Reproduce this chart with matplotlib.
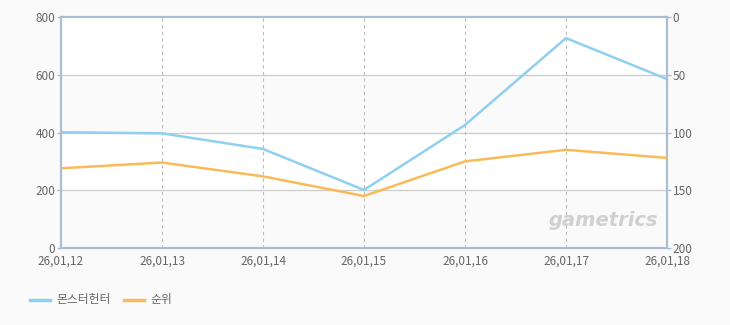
import matplotlib.pyplot as plt

plt.rcParams['font.family'] = ['Noto Sans CJK KR', 'DejaVu Sans']

dates = ["26,01,12", "26,01,13", "26,01,14", "26,01,15", "26,01,16", "26,01,17", "26,01,18"]
players = [401, 397, 343, 201, 426, 727, 585]
rank = [131, 126, 138, 155, 125, 115, 122]

blue = '#8fd0f0'
orange = '#f9bb5a'
spine = '#a9bdd3'
txt = '#666666'

fig = plt.figure(figsize=(7.3, 3.25), dpi=100, facecolor='#fafafa')
ax = fig.add_axes([61/730, 77/325, 606/730, 231/325])
ax.set_facecolor('white')

# alternating bands
for lo, hi, c in [(0, 200, '#fafafa'), (200, 400, 'white'), (400, 600, '#fafafa'), (600, 800, 'white')]:
    ax.axhspan(lo, hi, color=c, zorder=0, lw=0)

x = list(range(len(dates)))
ax.plot(x, players, color=blue, lw=1.8, zorder=3)
ax.set_xlim(0, len(dates) - 1)
ax.set_ylim(0, 800)
ax.set_yticks([0, 200, 400, 600, 800])
ax.set_xticks(x)
ax.set_xticklabels(dates)
for v in [200, 400, 600]:
    ax.axhline(v, color='#cccccc', lw=0.9, zorder=1)
for xi in x[1:-1]:
    ax.axvline(xi, color='#bbbbbb', lw=0.8, ls=(0, (3, 3)), zorder=1)

ax2 = ax.twinx()
ax2.plot(x, rank, color=orange, lw=1.8, zorder=3)
ax2.set_ylim(200, 0)
ax2.set_yticks([0, 50, 100, 150, 200])

for a in (ax, ax2):
    for s in a.spines.values():
        s.set_color(spine)
        s.set_linewidth(1.5)
    a.tick_params(colors=spine, labelcolor=txt, labelsize=8.5, length=3, width=1, pad=1)
ax.tick_params(axis='x', length=0, pad=5)

ax.text(0.985, 0.08, 'gametrics', transform=ax.transAxes, ha='right', va='bottom',
        fontsize=14, fontweight='bold', style='italic', color='#d0d0d0', family='DejaVu Sans', zorder=2)

# legend
fig.lines.append(plt.Line2D([30/730, 50/730], [25/325, 25/325], color=blue, lw=2.5, transform=fig.transFigure))
fig.text(56/730, 25/325, '몬스터헌터', color=txt, fontsize=8.5, va='center')
fig.lines.append(plt.Line2D([124/730, 144/730], [25/325, 25/325], color=orange, lw=2.5, transform=fig.transFigure))
fig.text(150/730, 25/325, '순위', color=txt, fontsize=8.5, va='center')

fig.savefig('out.png', dpi=100, facecolor=fig.get_facecolor())
